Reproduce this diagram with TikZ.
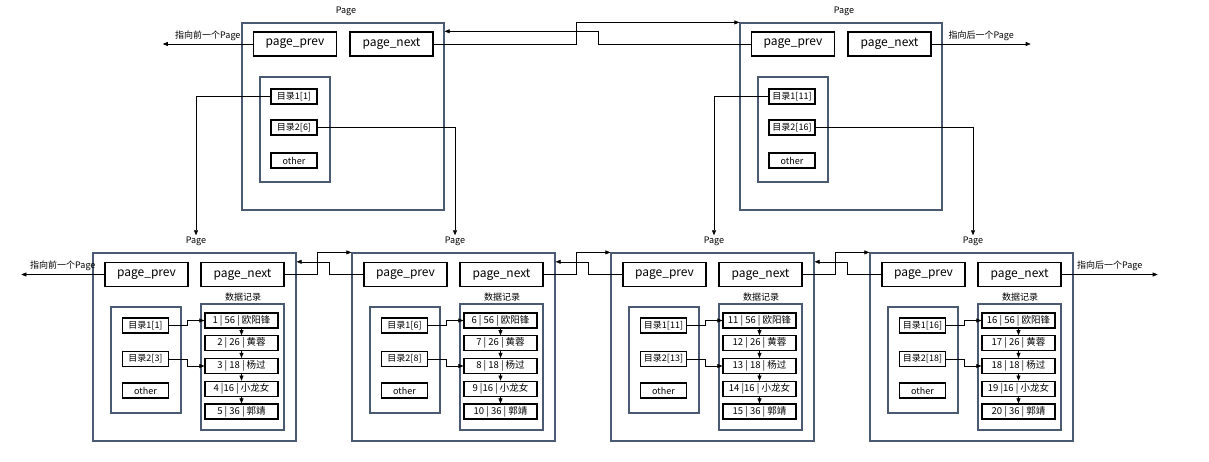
\documentclass[tikz,border=0pt]{standalone}
\usepackage{fontspec}
\setmainfont{Noto Sans CJK SC}
\usetikzlibrary{positioning,arrows.meta}
\definecolor{PageLine}{HTML}{4A5A72}

\begin{document}
\begin{tikzpicture}[x=1pt,y=-1pt,>={Triangle[length=5pt,width=4pt]},line width=.6pt]
    \tikzstyle{page}=[draw=PageLine,line width=1.2pt,inner sep=0pt]
    \tikzstyle{ptr}=[draw,line width=1.4pt,minimum width=83pt,minimum height=24pt,inner sep=0pt,font=\fontsize{12}{14}\selectfont]
    \tikzstyle{dir}=[draw,line width=1.2pt,minimum width=46pt,minimum height=15pt,inner sep=0pt,font=\fontsize{9}{10}\selectfont]
    \tikzstyle{rec}=[draw,line width=1.2pt,minimum width=73pt,minimum height=15pt,inner sep=0pt,font=\fontsize{9.5}{10}\selectfont]
    \tikzstyle{lbl}=[inner sep=1pt,font=\fontsize{9}{10}\selectfont]
    \useasboundingbox (0,0) rectangle (1209,461);
    % upper pages
    \foreach \i/\x/\a/\b in {1/242/1/6, 2/740/11/16} {
      \node[page,minimum width=202pt,minimum height=187pt] (t\i) at ({\x+101},116.5) {};
      \node[lbl] (t\i-l) at ({\x+104},11) {Page};
      \node[ptr] (t\i-p) at ({\x+53},44) {page\_prev};
      \node[ptr] (t\i-n) at ({\x+149.5},44) {page\_next};
      \node[page,minimum width=70pt,minimum height=105pt] (t\i-in) at ({\x+53},129.5) {};
      \node[dir] (t\i-d1) at ({\x+52},96.5) {目录1[\a]};
      \node[dir] (t\i-d2) at ({\x+52},127.5) {目录2[\b]};
      \node[dir] (t\i-o) at ({\x+52},160.5) {other};
    }
    % lower pages
    \foreach \i/\x/\a/\b in {1/93/1/3, 2/352/6/8, 3/611/11/13, 4/870/16/18} {
      \node[page,minimum width=203pt,minimum height=188pt] (p\i) at ({\x+101.5},347) {};
      \node[lbl] (p\i-l) at ({\x+103},241) {Page};
      \node[ptr] (p\i-p) at ({\x+53.5},274.5) {page\_prev};
      \node[ptr] (p\i-n) at ({\x+149.5},274.5) {page\_next};
      \node[lbl] (p\i-t) at ({\x+150},297) {数据记录};
      \node[page,minimum width=70pt,minimum height=106pt] (p\i-in) at ({\x+53},360) {};
      \node[dir] (p\i-d1) at ({\x+52.5},325.5) {目录1[\a]};
      \node[dir] (p\i-d2) at ({\x+52.5},359) {目录2[\b]};
      \node[dir] (p\i-o) at ({\x+52.5},390.5) {other};
      \node[page,minimum width=83pt,minimum height=126pt] (p\i-box) at ({\x+149.5},367) {};
      \foreach \j/\rest in {1/{| 56 | 欧阳锋}, 2/{| 26 | 黄蓉}, 3/{| 18 | 杨过}, 4/{|16 | 小龙女}, 5/{| 36 | 郭靖}} {
        \pgfmathtruncatemacro\n{5*(\i-1)+\j}
        \node[rec] (p\i-r\j) at ({\x+148.5},{320.5+22.75*(\j-1)}) {\n\space\rest};
      }
      \foreach \j [count=\k from 2] in {1,...,4}
        \draw[->] (p\i-r\j) -- (p\i-r\k);
      \draw[->] (p\i-d1.east) -- ++(18,0) |- (p\i-r1.west);
      \draw[->] (p\i-d2.east) -- ++(18,0) |- (p\i-r3.west);
    }
    % links between pages
    \draw[->] (t1-n.east) -- ++(143,0) |- (t2.north west);
    \draw[->] (t2-p.west) -- ++(-153,0) |- (t1.east |- t1-n.north);
    \foreach \i [count=\k from 2] in {1,2,3} {
      \draw[->] (p\i-n.east) -- ++(33,0) |- (p\k.north west);
      \draw[->] (p\k-p.west) -- ++(-34,0) |- (p\i.east |- p\i-n.north);
    }
    \draw[->] (t1-p.west) -- ++(-90,0) node[lbl,midway,above=2pt] (t1-prevtxt) {指向前一个Page};
    \draw[->] (t2-n.east) -- ++(99,0) node[lbl,midway,above=2pt] (t2-nexttxt) {指向后一个Page};
    \draw[->] (p1-p.west) -- ++(-83,0) node[lbl,midway,above=2pt] (p1-prevtxt) {指向前一个Page};
    \draw[->] (p4-n.east) -- ++(96,0) node[lbl,midway,above=2pt] (p4-nexttxt) {指向后一个Page};
    % directory entries of the upper pages
    \draw[->] (t1-d1.west) -| (p1-l.north);
    \draw[->] (t1-d2.east) -| (p2-l.north);
    \draw[->] (t2-d1.west) -| (p3-l.north);
    \draw[->] (t2-d2.east) -| (p4-l.north);
\end{tikzpicture}
\end{document}
